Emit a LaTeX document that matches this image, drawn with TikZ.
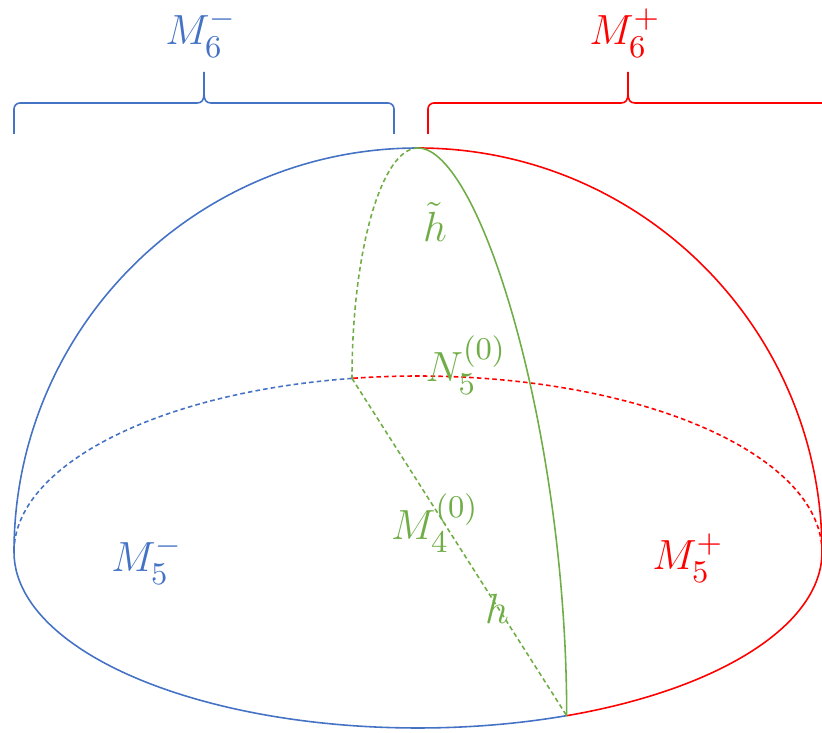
\documentclass[tikz,border=0pt]{standalone}
\usepackage{amsmath,amssymb}
\usepackage{tikz}
\usetikzlibrary{calc}
\definecolor{msblue}{HTML}{4472C4}
\definecolor{msred}{HTML}{FF0000}
\definecolor{msgreen}{HTML}{70AD47}
\DeclareMathSizes{12}{12}{9.5}{7}

\begin{document}
\begin{tikzpicture}[line width=0.45pt,
  hidden/.style={dash pattern=on 1.3pt off 0.9pt},
  lab/.style={font=\fontsize{12}{14}\selectfont, inner sep=0pt}]
\useasboundingbox (-4.18,-1.81) rectangle (4.04,5.52);
\clip (-4.18,-1.81) rectangle (4.04,5.52);
% points of the half ball
\coordinate (L) at (-4.04,0);
\coordinate (R) at (4.04,0);
\coordinate (T) at (0,4.04);
\coordinate (N) at (-0.66,1.736);
\coordinate (F) at (1.487,-1.637);
% dome
\draw [msblue] (L) arc[start angle=180, end angle=90, radius=4.04];
\draw [msred]  (T) arc[start angle=90, end angle=0, radius=4.04];
% equator
\draw [msblue] (L) arc[start angle=180, end angle=291.6, x radius=4.04, y radius=1.76];
\draw [msred]  (F) arc[start angle=291.6, end angle=360, x radius=4.04, y radius=1.76];
\draw [msred, hidden]  (R) arc[start angle=0, end angle=99.4, x radius=4.04, y radius=1.76];
\draw [msblue, hidden] (N) arc[start angle=99.4, end angle=180, x radius=4.04, y radius=1.76];
% green cut
\draw [msgreen, hidden] (T) arc[start angle=90, end angle=180, x radius=0.66, y radius=2.304];
\draw [msgreen] (T) .. controls ($(T)+(0.62,0)$) and ($(F)+(0,2.837)$) .. (F);
\draw [msgreen, hidden] (N) -- (F);
% braces
\coordinate (bl) at (-4.04,4.18);
\coordinate (br) at (-0.24,4.18);
\coordinate (bt) at (-2.14,4.80);
\coordinate (rl) at (0.10,4.18);
\coordinate (rr) at (4.10,4.18);
\coordinate (rt) at (2.10,4.80);
\draw [msblue] (bl) -- ++(0,0.25) to[out=90,in=180] ++(0.06,0.06) -- ($(bt)+(-0.07,-0.31)$)
  .. controls ($(bt)+(-0.02,-0.31)$) and ($(bt)+(0,-0.28)$) .. ($(bt)+(0,-0.21)$) -- (bt);
\draw [msblue] (br) -- ++(0,0.25) to[out=90,in=0] ++(-0.06,0.06) -- ($(bt)+(0.07,-0.31)$)
  .. controls ($(bt)+(0.02,-0.31)$) and ($(bt)+(0,-0.28)$) .. ($(bt)+(0,-0.21)$);
\draw [msred] (rl) -- ++(0,0.25) to[out=90,in=180] ++(0.06,0.06) -- ($(rt)+(-0.07,-0.31)$)
  .. controls ($(rt)+(-0.02,-0.31)$) and ($(rt)+(0,-0.28)$) .. ($(rt)+(0,-0.21)$) -- (rt);
\draw [msred] (rr) -- ++(0,0.25) to[out=90,in=0] ++(-0.06,0.06) -- ($(rt)+(0.07,-0.31)$)
  .. controls ($(rt)+(0.02,-0.31)$) and ($(rt)+(0,-0.28)$) .. ($(rt)+(0,-0.21)$);
% labels
\node [lab, msblue] (m6m) at (-2.17,5.19) {$M_6^-$};
\node [lab, msred]  (m6p) at (2.07,5.19) {$M_6^+$};
\node [lab, msblue] (m5m) at (-2.71,-0.08) {$M_5^-$};
\node [lab, msred]  (m5p) at (2.70,-0.06) {$M_5^+$};
\node [lab, msgreen] (n5) at (0.48,1.87) {$N_5^{(0)}$};
\node [lab, msgreen] (m4) at (0.17,0.29) {$M_4^{(0)}$};
\node [lab, msgreen] (hh) at (0.79,-0.57) {$h$};
\node [lab, msgreen] (ht) at (0.17,3.30) {$\tilde{h}$};
\end{tikzpicture}
\end{document}
